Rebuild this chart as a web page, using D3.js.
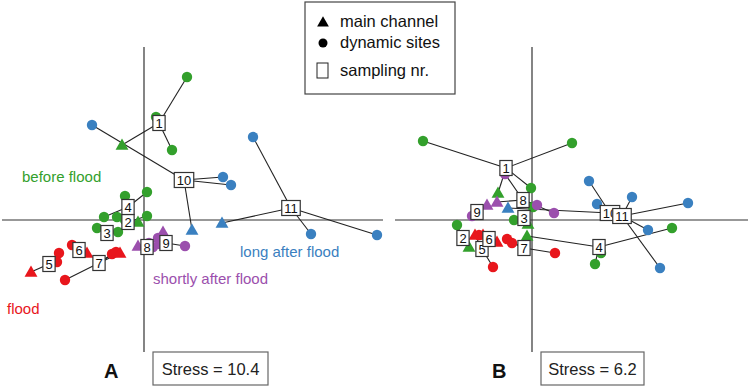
<!DOCTYPE html>
<html><head><meta charset="utf-8">
<script src="https://cdn.jsdelivr.net/npm/d3@7"></script>
<style>body{margin:0;background:#fff}svg{display:block;font-family:"Liberation Sans",Arial,sans-serif}</style>
</head><body><svg id="c" width="750" height="386"></svg>
<script>
// ---- data ----
const sampleNr = [1,2,3,4,5,6,7,8,9,10,11];
const sampleGroup = [0,0,0,0,1,1,1,2,2,3,3];
const groupNames = ["before flood","flood","shortly after flood","long after flood"];
const groupColors = ["#33a02c","#e8161c","#9b4fad","#3a80c0"];
const siteTypes = ["main channel","dynamic sites"];
// Panel A (NMDS) centroids = sampling nr.
const centroidsA = [[0.15,0.97],[-0.16,-0.02],[-0.37,-0.13],[-0.16,0.13],[-0.95,-0.44],[-0.65,-0.30],[-0.45,-0.43],[0.03,-0.27],[0.22,-0.23],[0.40,0.40],[1.47,0.12]];
// sites: [sampling nr, type (t = main channel, c = dynamic site), x, y]
const sitesA = [
 [1,"c",0.43,1.43],[1,"c",0.12,1.03],[1,"c",0.28,0.70],[1,"t",-0.22,0.75],
 [2,"c",-0.27,0.03],[2,"c",-0.19,0.00],[2,"c",0.03,0.04],[2,"t",-0.06,-0.02],
 [3,"c",-0.47,-0.08],[3,"c",-0.26,-0.12],
 [4,"c",-0.19,0.24],[4,"c",0.03,0.28],[4,"c",-0.40,0.03],
 [5,"t",-1.13,-0.52],[5,"c",-0.85,-0.33],[5,"c",-0.87,-0.42],
 [6,"c",-0.72,-0.25],[6,"t",-0.57,-0.33],
 [7,"c",-0.79,-0.60],[7,"c",-0.32,-0.34],[7,"c",-0.28,-0.32],[7,"t",-0.24,-0.33],
 [8,"t",-0.06,-0.26],[8,"c",0.05,-0.23],[8,"c",0.09,-0.27],[8,"c",0.14,-0.18],
 [9,"t",0.19,-0.12],[9,"c",0.41,-0.26],[9,"c",0.16,-0.24],
 [10,"c",-0.52,0.95],[10,"t",0.48,-0.10],[10,"c",0.79,0.43],[10,"c",0.87,0.35],
 [11,"c",1.09,0.83],[11,"t",0.78,-0.03],[11,"c",1.67,-0.14],[11,"c",2.33,-0.15]
];
// Panel B
const centroidsB = [[-0.26,0.52],[-0.69,-0.18],[-0.08,0.02],[0.67,-0.27],[-0.50,-0.29],[-0.43,-0.19],[-0.08,-0.28],[-0.09,0.20],[-0.55,0.08],[0.78,0.07],[0.90,0.04]];
const sitesB = [
 [1,"c",-1.09,0.79],[1,"c",0.40,0.77],[1,"t",-0.34,0.27],[1,"c",-0.01,0.32],
 [2,"c",-0.75,-0.05],[2,"t",-0.63,-0.27],
 [3,"c",-0.18,0.00],[3,"t",-0.04,-0.04],[3,"c",0.01,0.13],
 [4,"t",-0.05,-0.16],[4,"c",1.40,-0.08],[4,"c",0.63,-0.44],[4,"c",0.69,-0.33],
 [5,"c",-0.39,-0.47],[5,"t",-0.57,-0.15],
 [6,"t",-0.35,-0.22],[6,"c",-0.53,-0.15],[6,"t",-0.49,-0.15],
 [7,"c",-0.25,-0.19],[7,"c",-0.20,-0.23],[7,"c",0.23,-0.33],
 [8,"t",-0.35,0.18],[8,"c",0.05,0.15],[8,"c",0.22,0.07],[8,"c",-0.27,0.46],
 [9,"t",-0.45,0.15],[9,"c",-0.60,0.04],
 [10,"t",-0.24,0.12],[10,"c",0.57,0.39],[10,"c",0.65,0.16],
 [11,"c",1.00,0.23],[11,"c",1.56,0.17],[11,"c",1.16,-0.10],[11,"c",1.28,-0.48]
];
const panelLetters = ["A","B"];
const stressValues = ["10.4","6.2"];

// ---- drawing ----
const svg = d3.select("#c");
const axisCol = "#333";

function panel(cfg){
  const x = d3.scaleLinear().domain([0,1]).range([cfg.ox, cfg.ox+100]);
  const y = d3.scaleLinear().domain([0,1]).range([220,120]);
  const g = svg.append("g");
  g.append("line").attr("x1",cfg.hx0).attr("x2",cfg.hx1).attr("y1",y(0)).attr("y2",y(0))
    .attr("stroke",axisCol).attr("stroke-width",1.2);
  g.append("line").attr("x1",x(0)).attr("x2",x(0)).attr("y1",47).attr("y2",352)
    .attr("stroke",axisCol).attr("stroke-width",1.2);
  const cen = n => cfg.centroids[n-1];
  g.selectAll(".sp").data(cfg.sites).join("line")
    .attr("x1",d=>x(cen(d[0])[0])).attr("y1",d=>y(cen(d[0])[1]))
    .attr("x2",d=>x(d[2])).attr("y2",d=>y(d[3]))
    .attr("stroke","#222").attr("stroke-width",1.1);
  const col = d => groupColors[sampleGroup[d[0]-1]];
  g.selectAll(".ci").data(cfg.sites.filter(d=>d[1]==="c")).join("circle")
    .attr("cx",d=>x(d[2])).attr("cy",d=>y(d[3])).attr("r",5.2).attr("fill",col);
  const tri = d3.symbol(d3.symbolTriangle,72);
  g.selectAll(".tr").data(cfg.sites.filter(d=>d[1]==="t")).join("path")
    .attr("d",tri).attr("transform",d=>`translate(${x(d[2])},${y(d[3])+1})`).attr("fill",col);
  sampleNr.forEach((n,i)=>{
    const [cx,cy] = cfg.centroids[i];
    const bg = g.append("g").attr("transform",`translate(${x(cx)},${y(cy)})`);
    const t = bg.append("text").attr("text-anchor","middle").attr("dy","0.36em")
      .attr("font-size",13).attr("fill","#111").text(n);
    const w = t.node().getComputedTextLength()+5;
    bg.insert("rect","text").attr("x",-w/2).attr("y",-7.5).attr("width",w).attr("height",15)
      .attr("fill","#fff").attr("stroke","#333").attr("stroke-width",1.2);
  });
  svg.append("text").attr("x",cfg.lx).attr("y",378).attr("font-size",20).attr("font-weight","bold")
    .attr("fill","#111").text(cfg.letter);
  svg.append("rect").attr("x",cfg.sx).attr("y",352).attr("width",cfg.sw).attr("height",33)
    .attr("fill","#fff").attr("stroke","#666").attr("stroke-width",1.2);
  svg.append("text").attr("x",cfg.sx+cfg.sw/2).attr("y",375).attr("text-anchor","middle")
    .attr("font-size",16.5).attr("fill","#222").text("Stress = "+cfg.stress);
  return {x,y};
}

panel({ox:144,hx0:2,hx1:383,centroids:centroidsA,sites:sitesA,letter:panelLetters[0],lx:104,sx:153,sw:115,stress:stressValues[0]});
panel({ox:532,hx0:395,hx1:748,centroids:centroidsB,sites:sitesB,letter:panelLetters[1],lx:492,sx:541,sw:103,stress:stressValues[1]});

const labelPos = [[22,182],[7,314],[153,284],[240,257]];
groupNames.forEach((s,i)=>{
  svg.append("text").attr("x",labelPos[i][0]).attr("y",labelPos[i][1]).attr("font-size",15)
    .attr("fill",groupColors[i]).text(s);
});

const lg = svg.append("g");
lg.append("rect").attr("x",305).attr("y",2).attr("width",150).attr("height",92)
  .attr("fill","#fff").attr("stroke","#444").attr("stroke-width",1.2);
lg.append("path").attr("d",d3.symbol(d3.symbolTriangle,60)).attr("transform","translate(323,23)").attr("fill","#000");
lg.append("circle").attr("cx",323).attr("cy",43).attr("r",4.5).attr("fill","#000");
lg.append("rect").attr("x",317).attr("y",63).attr("width",11).attr("height",15).attr("fill","#fff").attr("stroke","#222").attr("stroke-width",1);
const legTexts = [siteTypes[0],siteTypes[1],"sampling nr."];
[27,48,76].forEach((yy,i)=>{
  lg.append("text").attr("x",340).attr("y",yy).attr("font-size",16.5).attr("fill","#111").text(legTexts[i]);
});
</script></body></html>
